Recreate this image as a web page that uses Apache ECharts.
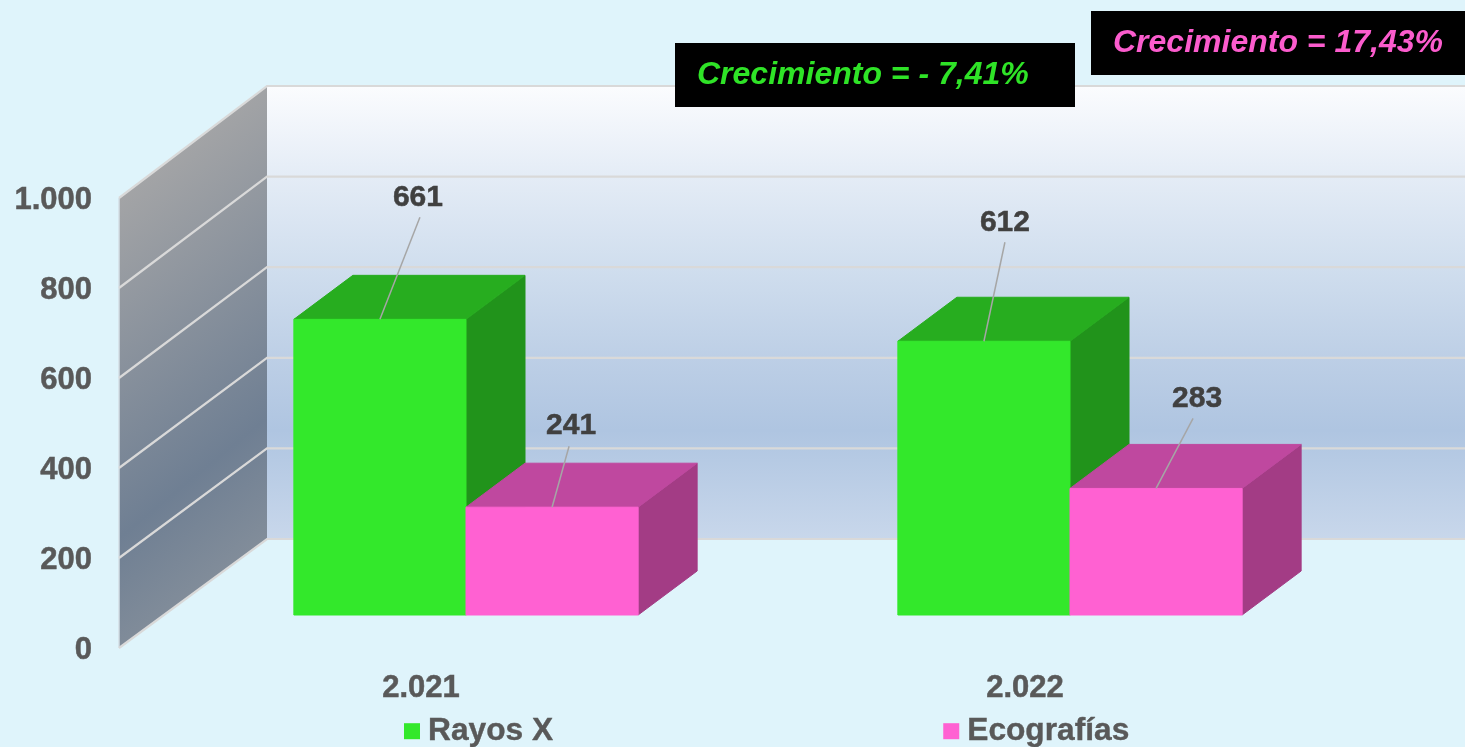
<!DOCTYPE html>
<html>
<head>
<meta charset="utf-8">
<style>html,body{margin:0;padding:0;background:#dff4fb}#c{width:1465px;height:747px}</style>
<script src="https://cdn.jsdelivr.net/npm/echarts@6/dist/echarts.min.js"></script>
</head>
<body>
<div id="c"></div>
<script>
const categories = ['2.021', '2.022'];
const rayosX = [661, 612];
const ecografias = [241, 283];
const yTicks = [0, 200, 400, 600, 800, 1000];
const growthRayos = 'Crecimiento = - 7,41%';
const growthEco = 'Crecimiento = 17,43%';

const FONT = '"Liberation Sans", Arial, sans-serif';
const C_GREEN = '#33e82b', C_PINK = '#ff61d2';
const chart = echarts.init(document.getElementById('c'), null, {renderer: 'canvas'});

// projection of the 3D box
const WALL_DX = 148, WALL_DY = 109, WALL_SCALE = 453 / 450;
const BAR_SHIFT_X = 45, BAR_SHIFT_Y = 33, BAR_DX = 59, BAR_DY = 44, BAR_FRAC = 0.285, BAR_SCALE = 0.994;

function renderWalls(params, api) {
  const cs = params.coordSys;
  const x0 = cs.x, y0 = cs.y + cs.height, x1 = x0 + WALL_DX, right = api.getWidth();
  const backY = y => y0 - WALL_DY - (y0 - y) * WALL_SCALE;
  const y = api.coord([0, api.value(1)])[1];
  const kids = [];
  if (params.dataIndex === 0) {
    const top = cs.y;
    kids.push({type: 'polygon', shape: {points: [[x1, backY(top)], [right, backY(top)], [right, backY(y0)], [x1, backY(y0)]]},
      style: {fill: new echarts.graphic.LinearGradient(0, backY(top), 0, backY(y0), [
        {offset: 0, color: '#fbfcfe'}, {offset: 0.2, color: '#e4ecf6'}, {offset: 0.4, color: '#d0deee'},
        {offset: 0.6, color: '#bdcfe6'}, {offset: 0.76, color: '#afc5e1'}, {offset: 1, color: '#c8d7eb'}], true)}});
    kids.push({type: 'polygon', shape: {points: [[x0, top], [x1, backY(top)], [x1, backY(y0)], [x0, y0]]},
      style: {fill: new echarts.graphic.LinearGradient(119, 198, 371, 509, [
        {offset: 0, color: '#a3a4a6'}, {offset: 0.66, color: '#6f7f93'}, {offset: 1, color: '#8a939d'}], true)}});
    kids.push({type: 'line', shape: {x1: x0, y1: top, x2: x0, y2: y0}, style: {stroke: '#d5dfe6', lineWidth: 1.5}});
  }
  kids.push({type: 'polyline', shape: {points: [[x0, y], [x1, backY(y)], [right, backY(y)]]},
    style: {stroke: '#d9d9d9', lineWidth: 2.2, fill: 'none'}});
  return {type: 'group', children: kids};
}

function barRenderer(side, colors, leaders) {
  return function (params, api) {
    const i = api.value(0), v = api.value(1);
    const base = api.coord([i, 0]), top = api.coord([i, v]);
    const w = api.size([1, 0])[0] * BAR_FRAC;
    const cx = base[0] + BAR_SHIFT_X;
    const xa = side < 0 ? cx - w : cx, xb = xa + w;
    const yb = base[1] - BAR_SHIFT_Y, yt = yb - (base[1] - top[1]) * BAR_SCALE;
    const poly = (pts, fill) => ({type: 'polygon', shape: {points: pts}, style: {fill, stroke: fill, lineWidth: 1}});
    const mid = (xa + xb) / 2, L = leaders[i];
    return {type: 'group', children: [
      poly([[xb, yb], [xb + BAR_DX, yb - BAR_DY], [xb + BAR_DX, yt - BAR_DY], [xb, yt]], colors[2]),
      poly([[xa, yt], [xb, yt], [xb + BAR_DX, yt - BAR_DY], [xa + BAR_DX, yt - BAR_DY]], colors[1]),
      poly([[xa, yb], [xb, yb], [xb, yt], [xa, yt]], colors[0]),
      {type: 'line', shape: {x1: mid, y1: yt, x2: mid + L[0], y2: yt + L[1]}, style: {stroke: '#a6a6a6', lineWidth: 1.5}},
      {type: 'text', style: {text: String(v), x: mid + L[0] + L[2], y: yt + L[1] - 20, align: 'center', verticalAlign: 'middle',
        font: 'bold 30px ' + FONT, fill: '#404040', stroke: '#404040', lineWidth: 0.5}}
    ]};
  };
}

const boxText = (x, y, w, h, tx, text, color) => ({
  type: 'group', children: [
    {type: 'rect', z: 100, shape: {x, y, width: w, height: h}, style: {fill: '#000'}},
    {type: 'text', z: 101, style: {text, x: tx, y: y + h / 2, verticalAlign: 'middle', font: 'italic bold 32px ' + FONT, fill: color}}
  ]
});

chart.setOption({
  backgroundColor: '#dff4fb',
  animation: false,
  grid: {left: 119, top: 198, width: 1208, height: 450},
  xAxis: {type: 'category', data: categories, axisLine: {show: false}, axisTick: {show: false}, splitLine: {show: false},
    axisLabel: {fontFamily: FONT, fontWeight: 'bold', fontSize: 31, color: '#595959', margin: 25, textBorderColor: '#595959', textBorderWidth: 0.5}},
  yAxis: {type: 'value', min: 0, max: 1000, interval: 200, axisLine: {show: false}, axisTick: {show: false}, splitLine: {show: false},
    axisLabel: {margin: 27,
      formatter: v => '{t|' + (v >= 1000 ? String(v).replace(/(\d)(\d{3})$/, '$1.$2') : String(v)) + '}',
      rich: {t: {fontFamily: FONT, fontWeight: 'bold', fontSize: 31, color: '#595959', padding: [4, 0, 0, 0], textBorderColor: '#595959', textBorderWidth: 0.5}}}},
  legend: {left: 404, top: 715, icon: 'rect', itemWidth: 16, itemHeight: 16, itemGap: 390, padding: 0, selectedMode: false,
    data: ['Rayos X', 'Ecografías'],
    textStyle: {fontFamily: FONT, fontWeight: 'bold', fontSize: 31.7, color: '#595959', padding: [0, 0, 0, 3], textBorderColor: '#595959', textBorderWidth: 0.4}},
  tooltip: {show: false},
  series: [
    {type: 'custom', name: 'walls', silent: true, z: 1, renderItem: renderWalls, data: yTicks.map(t => [0, t]), encode: {x: 0, y: 1}},
    {type: 'custom', name: 'Rayos X', silent: true, z: 2, itemStyle: {color: C_GREEN},
      renderItem: barRenderer(-1, [C_GREEN, '#27ad1f', '#21931b'], [[40, -102, -2], [21, -99, 0]]),
      data: rayosX.map((v, i) => [i, v]), encode: {x: 0, y: 1}},
    {type: 'custom', name: 'Ecografías', silent: true, z: 3, itemStyle: {color: C_PINK},
      renderItem: barRenderer(1, [C_PINK, '#bf489f', '#a33c85'], [[17, -61, 2], [37, -70, 4]]),
      data: ecografias.map((v, i) => [i, v]), encode: {x: 0, y: 1}}
  ],
  graphic: [
    boxText(675, 43, 400, 64, 697, growthRayos, '#2fe327'),
    boxText(1091, 11, 374, 64, 1113, growthEco, '#fb5ccd')
  ]
});
</script>
</body>
</html>
